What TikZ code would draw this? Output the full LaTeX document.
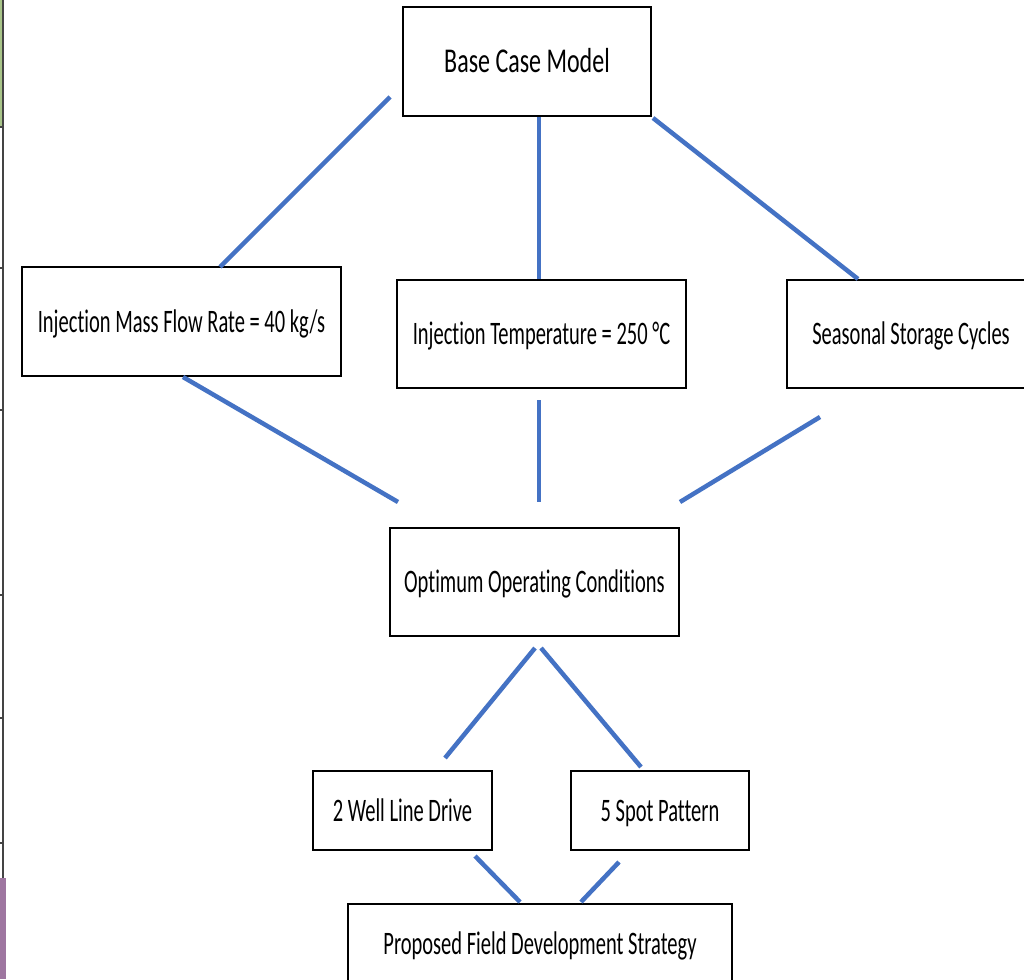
\documentclass[tikz,border=0pt]{standalone}
\usepackage{fontspec}
\setmainfont[Ligatures={NoCommon}]{Carlito}
\usepackage{graphicx}
\definecolor{linkblue}{HTML}{4472C4}
\definecolor{edgegray}{HTML}{444444}
\definecolor{edgegreen}{HTML}{A9C58A}
\definecolor{edgepurple}{HTML}{9E76A0}
\newcommand{\tallbody}[1]{\scalebox{1}[1.6]{\fontsize{20.5}{24}\selectfont #1}}
\newcommand{\talltitle}[1]{\scalebox{1}[1.45]{\fontsize{24}{28}\selectfont #1}}
\tikzset{
  box/.style={draw=black, line width=2pt, fill=white, inner sep=0pt,
              text height=21.5pt, text depth=-3pt, align=center},
  link/.style={draw=linkblue, line width=4.5pt},
}
\begin{document}
\begin{tikzpicture}[x=1pt,y=-1pt]
\useasboundingbox (0,0) rectangle (1024,979);
\clip (0,0) rectangle (1024,979);
\fill[white] (0,0) rectangle (1024,979);

% left edge remnants
\fill[edgegreen] (0,0) rectangle (2,127);
\draw[edgegray, line width=2.2pt] (2.7,0) -- (2.7,878);
\foreach \yy in {127,268,410,595,718,843} {
  \draw[edgegray, line width=1.5pt] (0,\yy) -- (3.8,\yy);
}
\fill[edgepurple] (0,878) rectangle (6,979);

% boxes
\node[box, minimum width=248pt, minimum height=109pt] (base) at (527,61.5) {\talltitle{Base Case Model}};
\node[box, minimum width=319pt, minimum height=109pt] (mass) at (181.5,321.5) {\tallbody{Injection Mass Flow Rate = 40 kg/s}};
\node[box, minimum width=289pt, minimum height=108pt] (temp) at (541.5,334) {\tallbody{Injection Temperature = 250 \textdegree C}};
\node[box, minimum width=248pt, minimum height=108pt] (seas) at (911,334) {\tallbody{Seasonal Storage Cycles}};
\node[box, minimum width=289pt, minimum height=108pt] (opt) at (534.5,582) {\tallbody{Optimum Operating Conditions}};
\node[box, minimum width=179pt, minimum height=79pt] (well) at (402.5,810.5) {\tallbody{2 Well Line Drive}};
\node[box, minimum width=178pt, minimum height=79pt] (spot) at (660,810.5) {\tallbody{5 Spot Pattern}};
\node[box, minimum width=384pt, minimum height=80pt] (prop) at (540,944) {\tallbody{Proposed Field Development Strategy}};

% connector end points
\coordinate (c1a) at (390,97);  \coordinate (c1b) at (220,267);
\coordinate (c2a) at (539,117); \coordinate (c2b) at (539,279);
\coordinate (c3a) at (653,118); \coordinate (c3b) at (858,279);
\coordinate (c4a) at (183,377); \coordinate (c4b) at (398,502);
\coordinate (c5a) at (539,400); \coordinate (c5b) at (539,502);
\coordinate (c6a) at (820,417); \coordinate (c6b) at (680,502);
\coordinate (c7a) at (535,648); \coordinate (c7b) at (445,758);
\coordinate (c8a) at (541,648); \coordinate (c8b) at (641,767);
\coordinate (c9a) at (475,856); \coordinate (c9b) at (520,902);
\coordinate (c10a) at (619,862); \coordinate (c10b) at (581,902);

\draw[link] (c1a) -- (c1b);
\draw[link] (c2a) -- (c2b);
\draw[link] (c3a) -- (c3b);
\draw[link] (c4a) -- (c4b);
\draw[link] (c5a) -- (c5b);
\draw[link] (c6a) -- (c6b);
\draw[link] (c7a) -- (c7b);
\draw[link] (c8a) -- (c8b);
\draw[link] (c9a) -- (c9b);
\draw[link] (c10a) -- (c10b);
\end{tikzpicture}
\end{document}
